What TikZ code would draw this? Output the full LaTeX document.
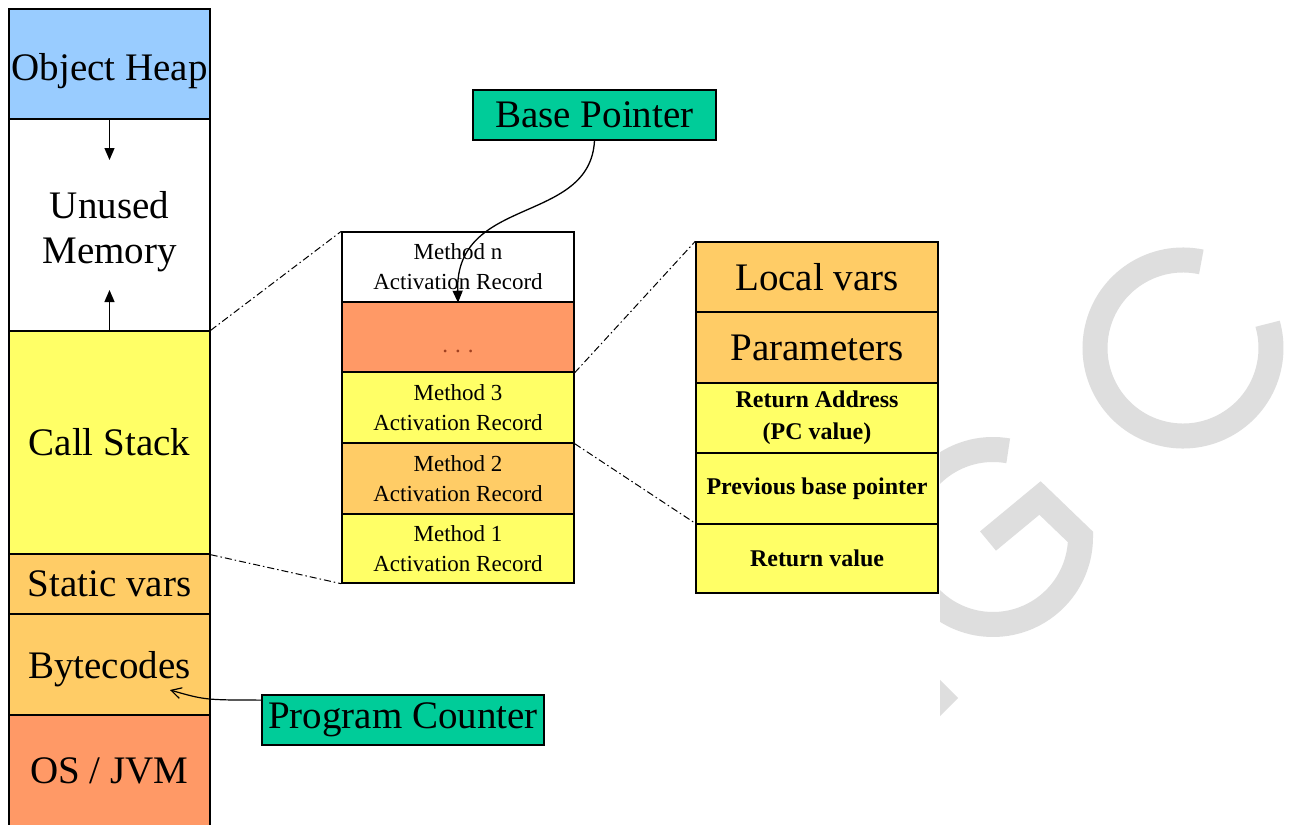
\documentclass[tikz,border=0pt]{standalone}
\usepackage{fontspec}
\setmainfont{Liberation Serif}
\usetikzlibrary{arrows.meta}

\definecolor{heapblue}{HTML}{99CCFF}
\definecolor{stackyellow}{HTML}{FFFF66}
\definecolor{lightorange}{HTML}{FFCC66}
\definecolor{deeporange}{HTML}{FF9966}
\definecolor{pointerteal}{HTML}{00CC99}
\definecolor{markgray}{HTML}{DEDEDE}
\definecolor{dotbrown}{HTML}{A04020}

\newcommand\memfontL{\fontsize{39}{46}\selectfont}
\newcommand\memfontS{\fontsize{23}{30}\selectfont}
\newcommand\memfontB{\fontsize{24}{32}\selectfont\bfseries}
% put a label's baseline the given distance below the cell centre
\newcommand\lowered[2]{\smash{\raisebox{-#1}{#2}}}

\tikzset{
  cell/.style={draw=black, line width=1.4pt, rectangle, inner sep=0pt, align=center},
  memcell/.style={cell, minimum width=201pt, font=\memfontL},
  framecell/.style={cell, minimum width=232pt, minimum height=70pt, font=\memfontS},
  recordcell/.style={cell, minimum width=242pt, minimum height=70pt},
  pointerbox/.style={cell, fill=pointerteal, line width=1.2pt, minimum height=50pt, font=\memfontL},
  growarrow/.style={line width=1.2pt, -{Triangle[length=12pt,width=10pt]}},
  zoomline/.style={line width=1pt, dash pattern=on 7pt off 3pt on 1.5pt off 3pt},
  pointerarrow/.style={line width=1.3pt, -{Triangle[length=12pt,width=10pt]}},
  pcarrow/.style={line width=1.2pt, -{Straight Barb[length=10pt,width=11pt]}},
  logostroke/.style={draw=markgray, line width=25pt, line join=miter}
}

\begin{document}
\begin{tikzpicture}[x=1pt,y=-1pt]
\useasboundingbox (0,0) rectangle (1289,824);
\fill[white] (0,0) rectangle (1289,824);

% light grey logo in the background
\begin{scope}
  \clip (940,0) rectangle (1289,824);
  \draw[logostroke] (1183,348) ++(-78:88) arc[start angle=-78, end angle=-376, radius=88];
  \draw[logostroke] (993,537) ++(-80:87.5) arc[start angle=-80, end angle=-360, radius=87.5]
              -- (1040,498) -- (988,541);
  \fill[markgray] (930,670) -- (958,698) -- (930,726) -- cycle;
\end{scope}

% memory layout column
\node[memcell, fill=heapblue,    minimum height=110pt] (heap)      at (109.5,64)    {\lowered{17pt}{Object Heap}};
\node[memcell, fill=white,       minimum height=212pt] (unused)    at (109.5,225)   {\lowered{16pt}{Unused}\\\lowered{15pt}{Memory}};
\node[memcell, fill=stackyellow, minimum height=223pt] (callstack) at (109.5,442.5) {Call Stack};
\node[memcell, fill=lightorange, minimum height=60pt]  (static)    at (109.5,584)   {Static vars};
\node[memcell, fill=lightorange, minimum height=101pt] (bytecodes) at (109.5,664.5) {\lowered{14pt}{Bytecodes}};
\node[memcell, fill=deeporange,  minimum height=112pt] (os)        at (109.5,771)   {OS / JVM};

\coordinate (heapgrow)  at (109.5,160);
\coordinate (stackgrow) at (109.5,290);
\draw[growarrow] (heap.south) -- (heapgrow);
\draw[growarrow] (callstack.north) -- (stackgrow);

% call stack frames
\node[framecell, fill=white]       (mn)   at (458,267)   {Method n\\Activation Record};
\node[framecell, fill=deeporange]  (dots) at (458,337)   {\lowered{15pt}{\textcolor{dotbrown}{.\hspace{7pt}.\hspace{7pt}.}}};
\node[framecell, fill=stackyellow, minimum height=71pt] (m3) at (458,407.5) {Method 3\\Activation Record};
\node[framecell, fill=lightorange, minimum height=71pt] (m2) at (458,478.5) {Method 2\\Activation Record};
\node[framecell, fill=stackyellow, minimum height=69pt] (m1) at (458,548.5) {Method 1\\Activation Record};

% contents of one activation record
\node[recordcell, fill=lightorange, font=\memfontL] (lv)  at (817,277)   {Local vars};
\node[recordcell, fill=lightorange, font=\memfontL, minimum height=71pt] (par) at (817,347.5) {Parameters};
\node[recordcell, fill=stackyellow, font=\memfontB] (ra)  at (817,418)   {Return Address\\(PC value)};
\node[recordcell, fill=stackyellow, font=\memfontB, minimum height=71pt] (pbp) at (817,488.5) {Previous base pointer};
\node[recordcell, fill=stackyellow, font=\memfontB, minimum height=69pt] (rv)  at (817,558.5) {Return value};

% zoom guides
\draw[zoomline] (callstack.north east) -- (mn.north west);
\draw[zoomline] (callstack.south east) -- (m1.south west);
\draw[zoomline] (dots.south east) -- (lv.north west);
\draw[zoomline] (m3.south east) -- (rv.north west);

% registers
\node[pointerbox, minimum width=243pt] (bp) at (594.5,115) {Base Pointer};
\node[pointerbox, minimum width=282pt] (pc) at (403,720)   {Program Counter};

\draw[pointerarrow] (bp.south) .. controls (590,225) and (455,195) .. (mn.south);
\coordinate (pctip) at (170,690);
\draw[pcarrow] (pc.172) .. controls (205,700) .. (pctip);
\end{tikzpicture}
\end{document}
